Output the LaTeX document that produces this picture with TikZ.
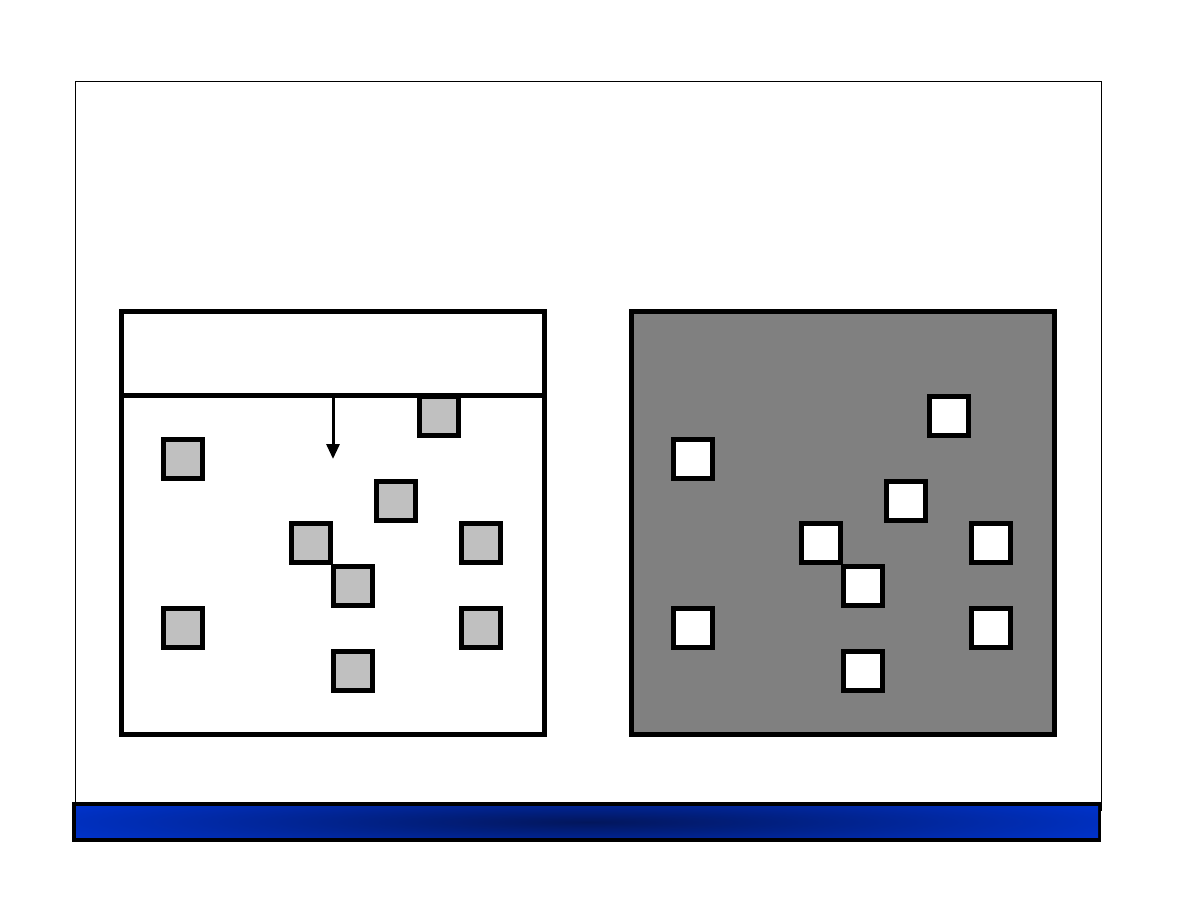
\documentclass[tikz,border=0pt]{standalone}
\usetikzlibrary{arrows.meta}
\definecolor{barblue}{RGB}{0,51,204}
\definecolor{bardark}{RGB}{2,22,92}
\definecolor{tilegray}{RGB}{192,192,192}
\definecolor{panelgray}{RGB}{128,128,128}

\begin{document}
\begin{tikzpicture}[x=1pt,y=-1pt,
  panel/.style={line width=5pt,draw=black},
  tile/.style={line width=5pt,draw=black,minimum size=39.5pt,inner sep=0pt}]
\useasboundingbox (0,0) rectangle (1188,918);

\coordinate (F1) at (75.5,81.5);
\coordinate (F2) at (1101.5,810);
\draw[line width=1pt] (F1) rectangle (F2);

% left panel
\coordinate (L1) at (121.5,311.5);
\coordinate (L2) at (544,734);
\coordinate (DL) at (121.5,395);
\coordinate (DR) at (544,395);
\draw[panel,fill=white] (L1) rectangle (L2);
\draw[panel] (DL)--(DR);

% right panel
\coordinate (R1) at (631.5,311.5);
\coordinate (R2) at (1054,734);
\draw[panel,fill=panelgray] (R1) rectangle (R2);

\foreach \x/\y [count=\i] in {183/459,439/416,396/501,311/543,353/586,481/543,183/628,481/628,353/671}{
  \node[tile,fill=tilegray] (l\i) at (\x,\y) {};
  \node[tile,fill=white] (r\i) at (\x+510,\y) {};
}

\coordinate (A) at (333,397);
\coordinate (B) at (333,459);
\draw[line width=3pt,-{Triangle[length=15pt,width=13pt]}] (A)--(B);

% bottom bar
\fill[black] (72,802) rectangle (1101,842);
\fill[barblue] (76,806) rectangle (1098,837);
\begin{scope}
\clip (76,806) rectangle (1098,837);
\shade[inner color=bardark,outer color=barblue] (588,822) ellipse (580pt and 34pt);
\end{scope}

\end{tikzpicture}
\end{document}
